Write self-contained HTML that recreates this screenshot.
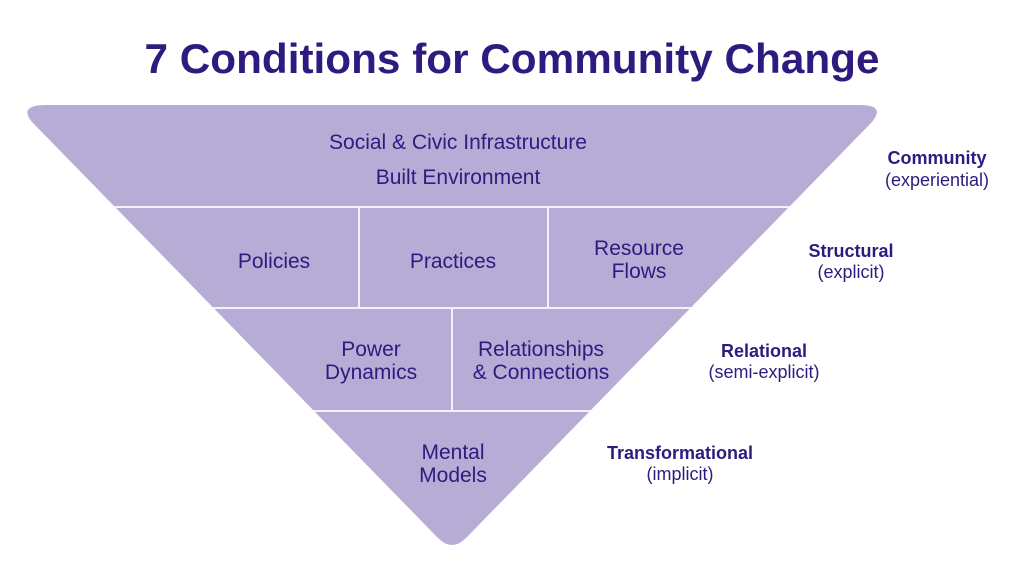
<!DOCTYPE html>
<html><head><style>
body{margin:0;width:1024px;height:576px;background:#fff;overflow:hidden}
svg{display:block}
text{font-family:"Liberation Sans",sans-serif;fill:#2f1a7f}
</style></head><body>
<svg width="1024" height="576" viewBox="0 0 1024 576">
<defs><clipPath id="c"><path id="tri" d="M46,105 L860,105 Q886,105 872,122 L466,538 Q452,552 438,538 L32,122 Q18,105 46,105 Z"/></clipPath></defs>
<text x="512" y="73" font-size="42" font-weight="bold" text-anchor="middle" textLength="735" lengthAdjust="spacingAndGlyphs">7 Conditions for Community Change</text>
<path d="M46,105 L860,105 Q886,105 872,122 L466,538 Q452,552 438,538 L32,122 Q18,105 46,105 Z" fill="#b7acd6"/>
<g stroke="#f4f1fa" stroke-width="2" clip-path="url(#c)">
<line x1="100" y1="207" x2="800" y2="207"/>
<line x1="200" y1="308" x2="700" y2="308"/>
<line x1="300" y1="411" x2="600" y2="411"/>
<line x1="359" y1="207" x2="359" y2="308"/>
<line x1="548" y1="207" x2="548" y2="308"/>
<line x1="452" y1="308" x2="452" y2="411"/>
</g>
<g font-size="21" text-anchor="middle">
<text x="458" y="149">Social &amp; Civic Infrastructure</text>
<text x="458" y="184">Built Environment</text>
<text x="274" y="268">Policies</text>
<text x="453" y="268">Practices</text>
<text x="639" y="255">Resource</text>
<text x="639" y="278">Flows</text>
<text x="371" y="356">Power</text>
<text x="371" y="379">Dynamics</text>
<text x="541" y="356">Relationships</text>
<text x="541" y="379">&amp; Connections</text>
<text x="453" y="459">Mental</text>
<text x="453" y="482">Models</text>
</g>
<g font-size="18" text-anchor="middle">
<text x="937" y="164" font-weight="bold">Community</text>
<text x="937" y="186">(experiential)</text>
<text x="851" y="257" font-weight="bold">Structural</text>
<text x="851" y="278">(explicit)</text>
<text x="764" y="357" font-weight="bold">Relational</text>
<text x="764" y="378">(semi-explicit)</text>
<text x="680" y="459" font-weight="bold">Transformational</text>
<text x="680" y="480">(implicit)</text>
</g>
</svg>
</body></html>
